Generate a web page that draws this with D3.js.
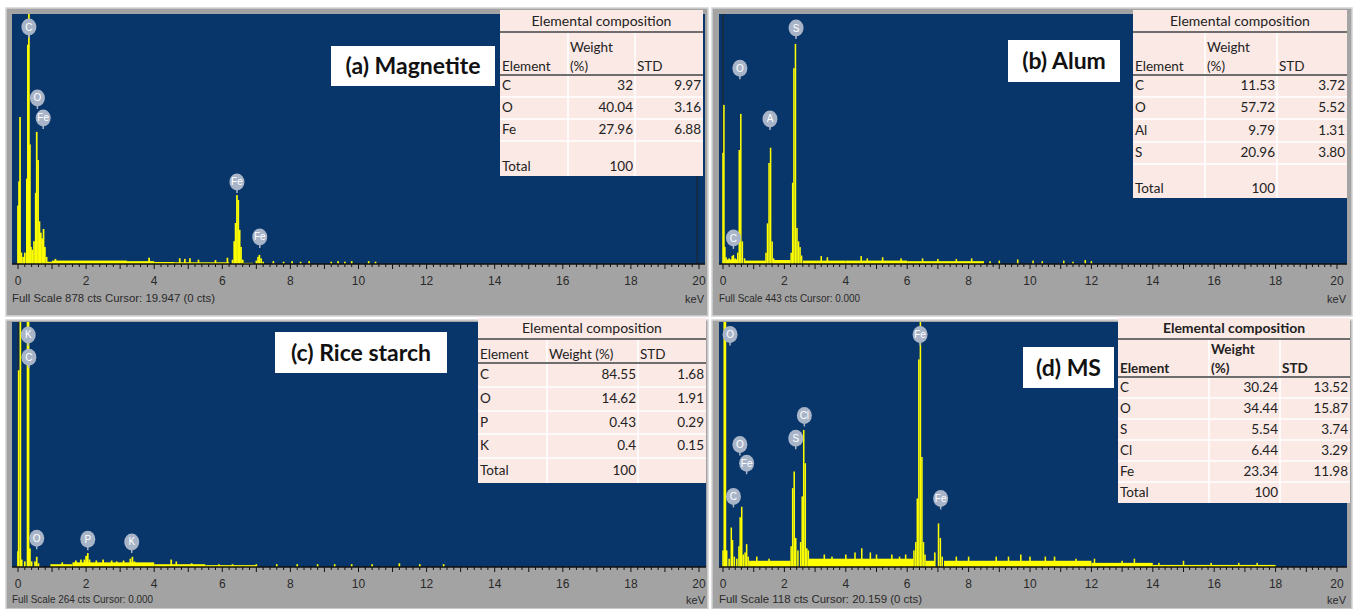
<!DOCTYPE html>
<html lang="en">
<head>
<meta charset="UTF-8">
<title>EDS spectra</title>
<script src="https://cdn.jsdelivr.net/npm/d3@7"></script>
<style>
  body { margin: 0; background: #fff; }
  svg { display: block; }
  .axis-label { font-family: "Liberation Sans", Arial, sans-serif; font-size: 12px; fill: #2a2a2a; }
  .foot { font-family: "Liberation Sans", Arial, sans-serif; font-size: 11px; fill: #2a2a2a; }
  .tbl { font-family: Lato, "Open Sans", sans-serif; font-size: 13.5px; fill: #222; }
  .tbl-title { font-size: 14px; }
  .title-box { font-family: Lato, "Open Sans", sans-serif; font-size: 23px; font-weight: bold; fill: #111; }
  .bubble-text { font-family: "Liberation Sans", Arial, sans-serif; font-size: 10px; fill: #fff; }
</style>
</head>
<body>
<svg width="1357" height="609"></svg>
<script>
// ---- data ----
const panelTitles = ["(a) Magnetite", "(b) Alum", "(c) Rice starch", "(d) MS"];
const fullScale = [878, 443, 264, 118];
const cursorKeV = [19.947, 0.000, 0.000, 20.159];
const cursorText = ["19.947  (0 cts)", "0.000", "0.000", "20.159  (0 cts)"];
const keVTicks = [0, 2, 4, 6, 8, 10, 12, 14, 16, 18, 20];

// spectrum channels [keV, counts]
const specA = [[0.00, 205], [0.03, 290], [0.06, 516], [0.10, 40], [0.15, 25], [0.20, 40], [0.26, 300],
  [0.29, 770], [0.32, 900], [0.35, 420], [0.38, 60], [0.42, 50], [0.47, 80], [0.52, 250], [0.55, 464],
  [0.59, 365], [0.63, 150], [0.67, 110], [0.71, 90], [0.75, 123], [0.79, 60], [0.84, 25], [1.10, 18],
  [6.30, 15], [6.35, 80], [6.39, 144], [6.43, 242], [6.47, 225], [6.51, 120], [6.55, 60], [6.60, 15],
  [7.00, 12], [7.05, 25], [7.09, 32], [7.14, 20], [7.20, 8]];
const specB = [[0.00, 197], [0.03, 282], [0.06, 30], [0.10, 12], [0.20, 10], [0.30, 14], [0.34, 16],
  [0.40, 10], [0.48, 20], [0.53, 202], [0.58, 266], [0.63, 40], [0.70, 10],
  [1.40, 20], [1.45, 72], [1.50, 179], [1.55, 206], [1.60, 40], [1.65, 10],
  [2.22, 20], [2.27, 144], [2.31, 347], [2.36, 390], [2.41, 64], [2.46, 40], [2.51, 30], [2.56, 15]];
const specC = [[0.00, 17], [0.02, 212], [0.07, 290], [0.11, 8], [0.20, 6], [0.28, 270], [0.31, 290],
  [0.35, 20], [0.40, 6], [0.50, 6], [0.55, 11], [0.60, 4],
  [1.95, 8], [2.00, 12], [2.05, 15], [2.10, 8], [3.30, 9], [3.36, 11], [3.42, 6]];
const specD = [[0.00, 8], [0.04, 130], [0.08, 130], [0.12, 8], [0.20, 4], [0.27, 19], [0.31, 13],
  [0.37, 5], [0.45, 4], [0.52, 10], [0.56, 24], [0.61, 29], [0.66, 6], [0.72, 7], [0.77, 11], [0.82, 5],
  [2.22, 10], [2.27, 38], [2.32, 46], [2.37, 14], [2.44, 8], [2.53, 12], [2.58, 34], [2.63, 66],
  [2.68, 50], [2.73, 9], [2.78, 8], [4.52, 9],
  [6.22, 8], [6.28, 12], [6.33, 33], [6.38, 100], [6.43, 130], [6.48, 53], [6.53, 12], [6.58, 6],
  [6.90, 7], [7.02, 21], [7.08, 14], [7.14, 5]];

// background level runs [fromKeV, toKeV, counts]
const bgA = [[0.85, 1.0, 8], [1.0, 3.2, 12], [3.2, 4.0, 10], [4.0, 4.6, 7], [4.6, 6.2, 6], [6.6, 6.9, 4]];
const bgB = [[0.10, 0.50, 8], [0.70, 1.40, 6], [1.65, 2.20, 7], [2.60, 4.0, 6], [4.0, 6.0, 6], [6.0, 8.5, 5]];
const bgC = [[0.95, 1.6, 3], [1.6, 4.0, 5], [4.0, 5.5, 3], [5.5, 7.0, 2]];
const bgD = [[0.85, 2.2, 3], [2.8, 6.2, 4], [6.6, 6.9, 3], [7.2, 12.0, 3], [12.0, 14.0, 2], [14.0, 18.0, 1]];

// isolated noise spikes [keV, counts]
const noiseA = [[3.85, 22], [4.75, 20], [4.90, 18], [5.05, 20], [5.30, 15], [5.80, 14], [6.15, 22],
  [7.50, 10], [7.80, 8], [8.05, 10], [8.30, 8], [8.55, 10], [9.20, 8], [9.40, 10], [9.60, 8],
  [9.80, 10], [10.30, 10], [10.50, 8]];
const noiseB = [[3.2, 14], [3.4, 12], [4.5, 14], [4.7, 10], [5.2, 12], [5.8, 10], [6.5, 10], [7.0, 9],
  [7.6, 9], [8.1, 10], [8.7, 5], [9.0, 6], [9.6, 8], [10.1, 6], [10.4, 5], [11.1, 6], [11.4, 4],
  [11.8, 7], [12.0, 5]];
const noiseC = [[1.3, 5], [1.7, 7], [1.85, 8], [2.3, 7], [2.5, 8], [2.75, 7], [2.9, 6], [3.1, 7],
  [4.5, 8], [4.65, 6], [5.1, 4], [5.9, 3], [6.3, 3], [7.0, 3], [7.6, 3], [8.2, 3], [8.8, 3], [9.3, 3],
  [9.8, 3], [10.4, 3], [11.2, 4], [11.8, 3], [12.5, 3]];
const noiseD = [[1.1, 5], [1.5, 4], [3.3, 6], [3.55, 5], [4.0, 6], [4.3, 7], [4.8, 7], [5.0, 6],
  [5.5, 6], [5.75, 5], [5.95, 6], [7.6, 5], [8.0, 5], [8.9, 5], [9.3, 5], [9.7, 6], [10.0, 5],
  [10.5, 5], [10.8, 5], [11.5, 4], [12.1, 4], [13.0, 3], [13.4, 4], [14.2, 2], [15.0, 3],
  [15.9, 2], [16.8, 2], [17.4, 2]];

// peak markers [element, keV, counts at marker centre]
const labelsA = [["C", 0.32, 832], ["O", 0.57, 583], ["Fe", 0.74, 513], ["Fe", 6.43, 288], ["Fe", 7.10, 95]];
const labelsB = [["O", 0.55, 347], ["C", 0.34, 46], ["A", 1.53, 257], ["S", 2.38, 418]];
const labelsC = [["K", 0.30, 250], ["C", 0.32, 226], ["O", 0.55, 31], ["P", 2.05, 30], ["K", 3.34, 27]];
const labelsD = [["O", 0.23, 112], ["Fe", 6.42, 112], ["Cl", 2.65, 73], ["S", 2.37, 62], ["O", 0.55, 59],
  ["Fe", 0.77, 50], ["C", 0.34, 34], ["Fe", 7.09, 33]];

// elemental composition tables [element, weight %, STD]
const compA = [["C", "32", "9.97"], ["O", "40.04", "3.16"], ["Fe", "27.96", "6.88"], ["Total", "100", ""]];
const compB = [["C", "11.53", "3.72"], ["O", "57.72", "5.52"], ["Al", "9.79", "1.31"], ["S", "20.96", "3.80"], ["Total", "100", ""]];
const compC = [["C", "84.55", "1.68"], ["O", "14.62", "1.91"], ["P", "0.43", "0.29"], ["K", "0.4", "0.15"], ["Total", "100", ""]];
const compD = [["C", "30.24", "13.52"], ["O", "34.44", "15.87"], ["S", "5.54", "3.74"], ["Cl", "6.44", "3.29"], ["Fe", "23.34", "11.98"], ["Total", "100", ""]];

// ---- layout ----
const BLUE = "#08356a", GREY = "#a3a3a3", YELLOW = "#ffff00", PINK = "#fbe9e5";
const svg = d3.select("svg");

const layouts = [
  { frame: [6, 8, 702, 308], plot: [12, 14, 705, 264], x0: 18, x20: 699, foot: 302, unit: 303,
    box: [331, 46, 164, 40],
    table: { cols: [500, 568, 635, 703], top: 10, title: 32, head: 75, rows: [97, 119, 141, 176], twoLine: true, bold: false } },
  { frame: [712, 8, 640, 308], plot: [719, 14, 1347, 264], x0: 723, x20: 1337, foot: 302, unit: 303,
    box: [1008, 40, 112, 42],
    table: { cols: [1133, 1205, 1277, 1347], top: 10, title: 32, head: 75, rows: [97, 119, 142, 164, 198], twoLine: true, bold: false } },
  { frame: [6, 320, 702, 289], plot: [12, 322, 706, 567], x0: 18, x20: 699, foot: 603, unit: 604,
    box: [275, 332, 172, 41],
    table: { cols: [478, 547, 638, 706], top: 318, title: 339, head: 363, rows: [387, 411, 434, 458, 483], twoLine: false, bold: false } },
  { frame: [712, 320, 640, 289], plot: [719, 322, 1347, 567], x0: 723, x20: 1337, foot: 603, unit: 604,
    box: [1023, 347, 91, 41],
    table: { cols: [1118, 1209, 1280, 1350], top: 318, title: 339, head: 377, rows: [398, 419, 440, 461, 482, 503], twoLine: true, bold: true } }
];

const specs = [specA, specB, specC, specD];
const bgs = [bgA, bgB, bgC, bgD];
const noises = [noiseA, noiseB, noiseC, noiseD];
const labelSets = [labelsA, labelsB, labelsC, labelsD];
const comps = [compA, compB, compC, compD];

layouts.forEach((L, i) => {
  const g = svg.append("g");
  const [fx, fy, fw, fh] = L.frame;
  g.append("rect").attr("x", fx).attr("y", fy).attr("width", fw).attr("height", fh)
    .attr("fill", GREY).attr("stroke", "#d4d4d4").attr("stroke-width", 1.5);

  const [px0, py0, px1, py1] = L.plot;
  g.append("rect").attr("x", px0).attr("y", py0).attr("width", px1 - px0).attr("height", py1 - py0)
    .attr("fill", BLUE);

  const x = d3.scaleLinear().domain([0, 20]).range([L.x0, L.x20]);
  const y = d3.scaleLinear().domain([0, fullScale[i]]).range([py1, py0]).clamp(true);
  const chan = x(0.05) - x(0);

  // cursor line
  if (cursorKeV[i] <= 20) {
    g.append("line").attr("x1", x(cursorKeV[i])).attr("x2", x(cursorKeV[i]))
      .attr("y1", py0).attr("y2", py1).attr("stroke", "#222").attr("stroke-width", 1);
  }

  // background runs
  g.selectAll(".bg").data(bgs[i]).join("rect")
    .attr("x", d => x(d[0])).attr("width", d => x(d[1]) - x(d[0]))
    .attr("y", d => y(d[2])).attr("height", d => py1 - y(d[2]))
    .attr("fill", YELLOW);

  // channels
  g.selectAll(".ch").data(specs[i].concat(noises[i])).join("rect")
    .attr("x", d => x(d[0]) - chan / 2).attr("width", chan)
    .attr("y", d => y(d[1])).attr("height", d => py1 - y(d[1]))
    .attr("fill", YELLOW);

  // axis
  const minor = d3.range(0, 20.001, 0.2);
  const ax = g.append("g").attr("transform", `translate(0,${py1})`);
  ax.append("line").attr("x1", px0).attr("x2", px1).attr("stroke", "#111").attr("stroke-width", 1.5);
  ax.selectAll(".mt").data(minor).join("line")
    .attr("x1", d => x(d)).attr("x2", d => x(d)).attr("y1", 0)
    .attr("y2", (d, k) => k % 5 === 0 ? 5 : 3)
    .attr("stroke", "#111").attr("stroke-width", 1);
  ax.selectAll(".tl").data(keVTicks).join("text")
    .attr("class", "axis-label")
    .attr("x", d => x(d)).attr("y", 21).attr("text-anchor", "middle")
    .text(d => d);

  g.append("text").attr("class", "foot").attr("x", px1 - 1).attr("y", L.unit)
    .attr("text-anchor", "end").text("keV");
  const ft = g.append("text").attr("class", "foot").attr("x", px0).attr("y", L.foot)
    .text(`Full Scale ${fullScale[i]} cts Cursor: ${cursorText[i]}`);
  ft.attr("textLength", cursorText[i].length > 6 ? 203 : 141).attr("lengthAdjust", "spacingAndGlyphs");

  // peak markers
  const mk = g.selectAll(".mk").data(labelSets[i]).join("g")
    .attr("transform", d => `translate(${x(d[1])},${y(d[2])})`);
  mk.append("line").attr("x1", 0).attr("x2", 0).attr("y1", 6).attr("y2", 11)
    .attr("stroke", "#aab6c8").attr("stroke-width", 1.5);
  mk.append("ellipse").attr("rx", 7.5).attr("ry", 8.5).attr("fill", "#a8b4c8");
  mk.append("text").attr("class", "bubble-text").attr("text-anchor", "middle").attr("y", 3.5)
    .text(d => d[0]);

  // title box
  const [bx, by, bw, bh] = L.box;
  g.append("rect").attr("x", bx).attr("y", by).attr("width", bw).attr("height", bh).attr("fill", "#fff");
  g.append("text").attr("class", "title-box").attr("x", bx + bw / 2).attr("y", by + bh / 2 + 8)
    .attr("text-anchor", "middle").text(panelTitles[i]);

  // composition table
  const T = L.table;
  const tg = g.append("g");
  const tx0 = T.cols[0], tx1 = T.cols[3];
  const tBottom = T.rows[T.rows.length - 1];
  tg.append("rect").attr("x", tx0).attr("y", T.top).attr("width", tx1 - tx0).attr("height", tBottom - T.top)
    .attr("fill", PINK);
  // white cell lines
  [T.cols[1], T.cols[2]].forEach(cx => tg.append("line").attr("x1", cx).attr("x2", cx)
    .attr("y1", T.title).attr("y2", tBottom).attr("stroke", "#fff").attr("stroke-width", 1.5));
  T.rows.slice(0, -1).forEach(ry => tg.append("line").attr("x1", tx0).attr("x2", tx1)
    .attr("y1", ry).attr("y2", ry).attr("stroke", "#fff").attr("stroke-width", 1.5));
  [T.title, T.head].forEach(ry => tg.append("line").attr("x1", tx0).attr("x2", tx1)
    .attr("y1", ry).attr("y2", ry).attr("stroke", "#6e6e6e").attr("stroke-width", 2));

  const fw8 = T.bold ? "bold" : "normal";
  tg.append("text").attr("class", "tbl tbl-title").attr("x", (tx0 + tx1) / 2).attr("y", T.title - 6)
    .attr("text-anchor", "middle").attr("font-weight", fw8).text("Elemental composition");
  const hb = T.head - 4;
  tg.append("text").attr("class", "tbl").attr("x", tx0 + 2).attr("y", hb).attr("font-weight", fw8).text("Element");
  tg.append("text").attr("class", "tbl").attr("x", T.cols[2] + 2).attr("y", hb).attr("font-weight", fw8).text("STD");
  if (T.twoLine) {
    tg.append("text").attr("class", "tbl").attr("x", T.cols[1] + 2).attr("y", hb - 19).attr("font-weight", fw8).text("Weight");
    tg.append("text").attr("class", "tbl").attr("x", T.cols[1] + 2).attr("y", hb).attr("font-weight", fw8).text("(%)");
  } else {
    tg.append("text").attr("class", "tbl").attr("x", T.cols[1] + 2).attr("y", hb).text("Weight (%)");
  }
  const tops = [T.head].concat(T.rows);
  comps[i].forEach((r, k) => {
    const h = tops[k + 1] - tops[k];
    // tall Total rows keep their text at the bottom of the cell
    const yb = h > 30 ? tops[k + 1] - 5 : tops[k + 1] - (h - 12) / 2 - 2;
    tg.append("text").attr("class", "tbl").attr("x", tx0 + 2).attr("y", yb).text(r[0]);
    tg.append("text").attr("class", "tbl").attr("x", T.cols[2] - 2).attr("y", yb).attr("text-anchor", "end").text(r[1]);
    tg.append("text").attr("class", "tbl").attr("x", tx1 - 2).attr("y", yb).attr("text-anchor", "end").text(r[2]);
  });
});
</script>
</body>
</html>
